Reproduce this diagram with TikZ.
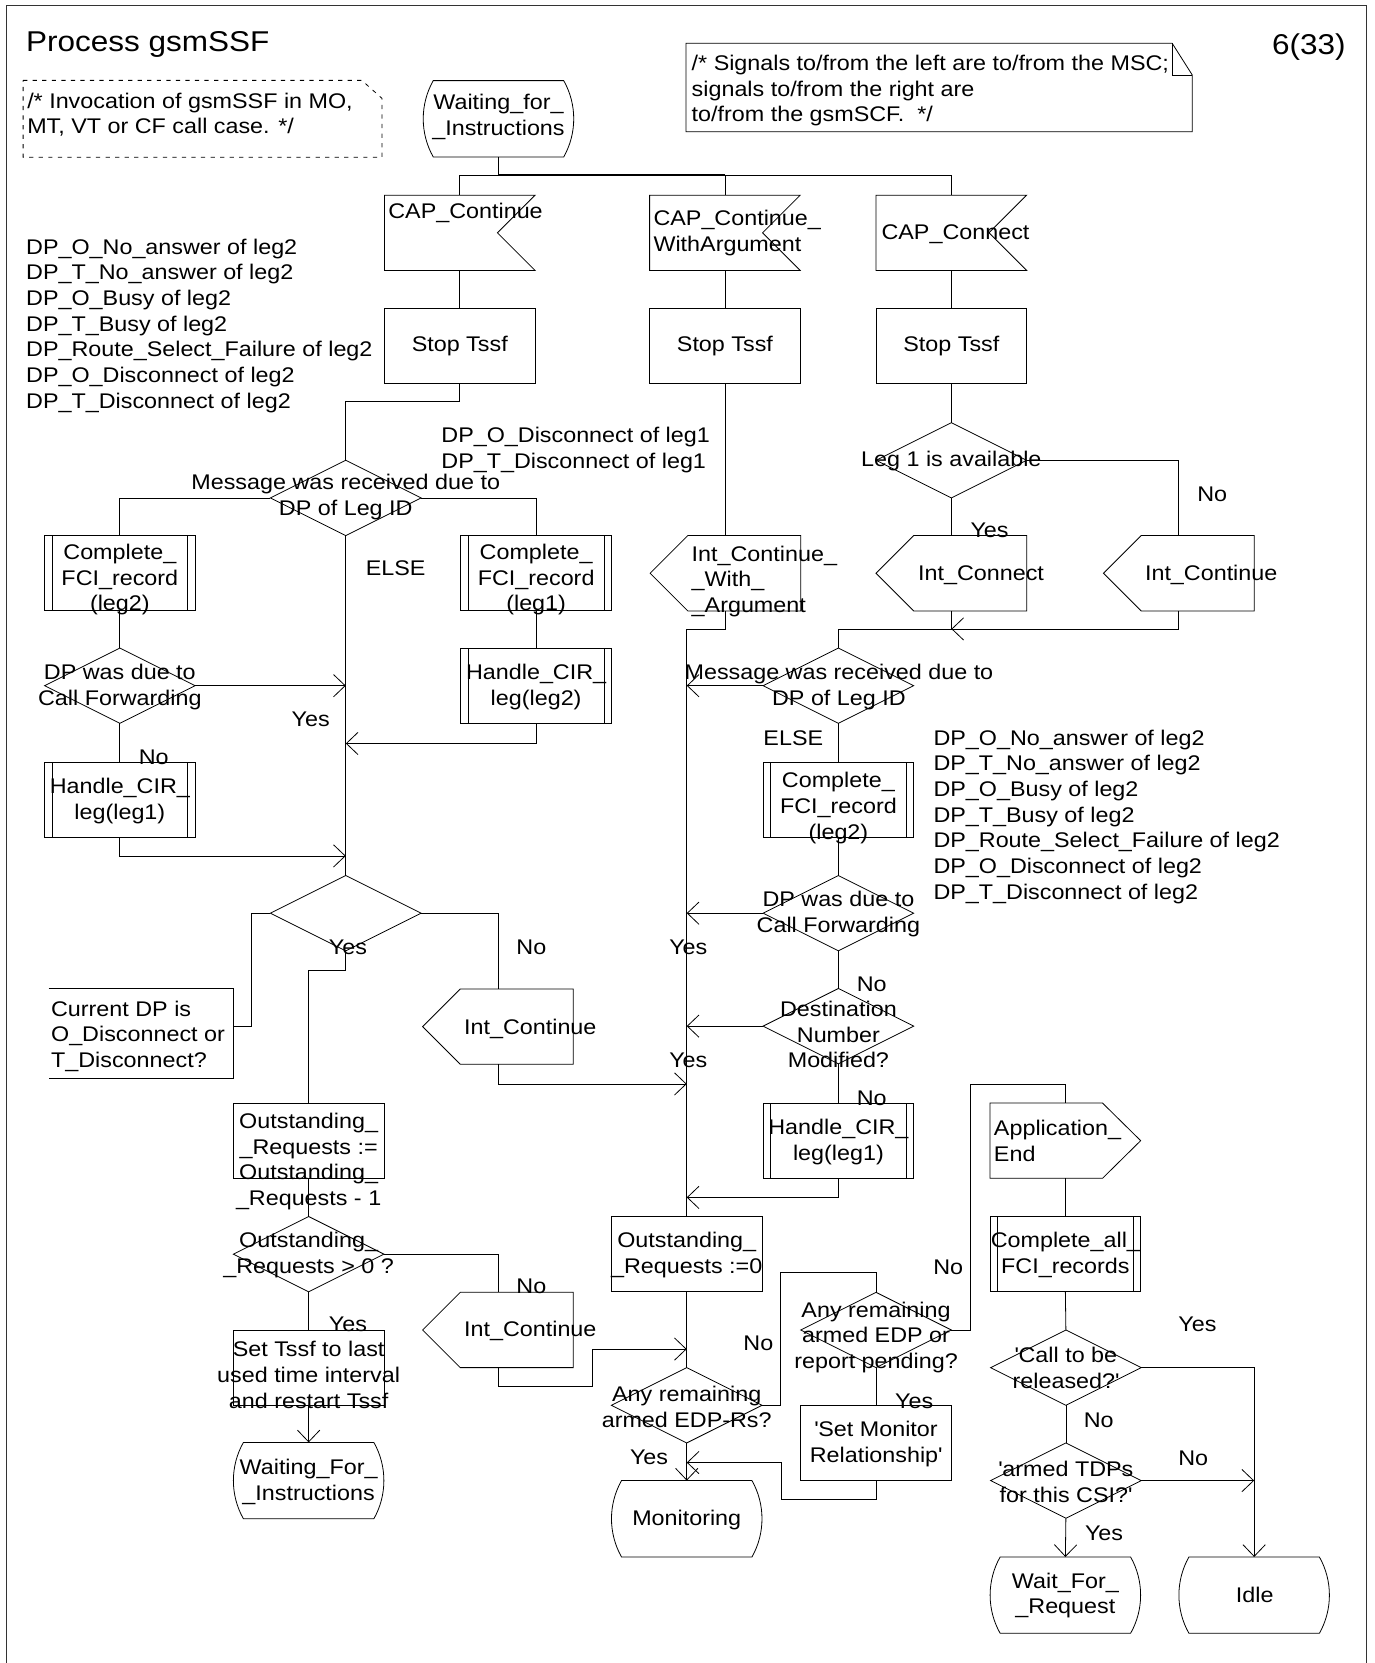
\documentclass[tikz,border=0pt]{standalone}
\usepackage{fontspec}
\setmainfont{Liberation Sans}[FakeStretch=1.1]
\usetikzlibrary{shapes.geometric,arrows.meta,calc}
\newcommand\tsz{\fontsize{20pt}{24.2pt}\selectfont}
\newcommand\ttsz{\fontsize{27pt}{30pt}\selectfont}
\tikzset{
 ln/.style={line width=0.75pt},
 arr/.style={ln,-{Straight Barb[length=11pt,width=21pt]}},
 blk/.style={inner sep=0pt, outer sep=0pt, minimum width=142pt, minimum height=71pt},
 box/.style={blk, draw, ln},
 dec/.style={diamond, draw, ln, inner sep=0pt, outer sep=0pt, minimum width=142pt, minimum height=71pt},
 tx/.style={inner sep=0pt, align=center},
 tl/.style={inner sep=0pt, align=left, anchor=west},
 frame/.style={line width=1pt, draw=black!80},
}
% input signal (notch on the right)
\newcommand\sdlinput[2]{\node[blk] (#1) at #2 {};
 \draw[ln] (#1.north west) -- (#1.north east) -- ($(#1.east)+(-35.5,0)$) -- (#1.south east) -- (#1.south west) -- cycle;}
% output signal pointing left
\newcommand\sdloutl[2]{\node[blk] (#1) at #2 {};
 \draw[ln] (#1.west) -- ($(#1.north west)+(35.5,0)$) -- (#1.north east) -- (#1.south east) -- ($(#1.south west)+(35.5,0)$) -- cycle;}
% output signal pointing right
\newcommand\sdloutr[2]{\node[blk] (#1) at #2 {};
 \draw[ln] (#1.north west) -- ($(#1.north east)+(-36,0)$) -- (#1.east) -- ($(#1.south east)+(-36,0)$) -- (#1.south west) -- cycle;}
% procedure call box
\newcommand\sdlproc[2]{\node[box] (#1) at #2 {};
 \draw[ln] ($(#1.north west)+(7,0)$) -- ($(#1.south west)+(7,0)$);
 \draw[ln] ($(#1.north east)+(-7,0)$) -- ($(#1.south east)+(-7,0)$);}
% state symbol
\newcommand\sdlstate[2]{\node[blk, minimum height=72pt] (#1) at #2 {};
 \draw[ln] ($(#1.north west)+(9.5,0)$) -- ($(#1.north east)+(-9.5,0)$)
   .. controls ($(#1.north east)+(3.1,22.3)$) and ($(#1.south east)+(3.1,-22.3)$) .. ($(#1.south east)+(-9.5,0)$)
   -- ($(#1.south west)+(9.5,0)$)
   .. controls ($(#1.south west)+(-3.1,-22.3)$) and ($(#1.north west)+(-3.1,22.3)$) .. cycle;}
\begin{document}
\begin{tikzpicture}[x=1pt, y=-1pt, font=\tsz]
\useasboundingbox (0,0) rectangle (1296,1568);
\draw[frame] (6,1568) -- (6,5) -- (1288,5) -- (1288,1568);

\node[tl, font=\ttsz] (title) at (24.5,42) {Process gsmSSF};
\node[inner sep=0pt, anchor=east, font=\ttsz] (page) at (1269,44) {6(33)};

% comments
\node[inner sep=0pt, minimum width=338pt, minimum height=72pt] (nt1) at (191,112) {};
\draw[ln, dash pattern=on 4pt off 5pt] (nt1.north west) -- ($(nt1.north east)+(-19,0)$) -- ($(nt1.north east)+(0,17)$) -- (nt1.south east) -- (nt1.south west) -- cycle;
\node[tl] (nt1t) at (25.5,108) {/* Invocation of gsmSSF in MO,\\MT, VT or CF call case. */};

\node[inner sep=0pt, minimum width=477pt, minimum height=83pt] (nt2) at (885.5,82.5) {};
\draw[ln] (nt2.north west) -- ($(nt2.north east)+(-19,0)$) -- ($(nt2.north east)+(0,30)$) -- (nt2.south east) -- (nt2.south west) -- cycle;
\draw[ln] ($(nt2.north east)+(-19,0)$) -- ($(nt2.north east)+(-19,30)$) -- ($(nt2.north east)+(0,30)$);
\node[tl] (nt2t) at (652,85.5) {/* Signals to/from the left are to/from the MSC;\\signals to/from the right are\\to/from the gsmSCF.\ \ */};

% top
\sdlstate{S0}{(470,112)}
\node[tx] (S0t) at (470,110) {Waiting\_for\_\\\_Instructions};
\coordinate (jn) at (470,165);

\sdlinput{IC1}{(433.5,219.5)}
\sdlinput{IC2}{(683.5,219.5)}
\sdlinput{IC3}{(897,219.5)}
\node[tl] (IC1t) at (366,201) {CAP\_Continue};
\node[tl] (IC2t) at (616,219.5) {CAP\_Continue\_\\WithArgument};
\node[tl] (IC3t) at (831,221) {CAP\_Connect};

\draw[ln] (IC1.north) -- (IC1.north |- jn) -- (IC3.north |- jn) -- (IC3.north);
\draw[ln] (IC2.north) -- (IC2.north |- jn);
\draw[ln, line width=1.5pt] (S0.south) -- (jn) -- (IC2.north |- jn);

\node[box] (ST1) at (433.5,326) {Stop Tssf};
\node[box] (ST2) at (683.5,326) {Stop Tssf};
\node[box] (ST3) at (897,326) {Stop Tssf};
\draw[ln] (IC1.south) -- (ST1.north);
\draw[ln] (IC2.south) -- (ST2.north);
\draw[ln] (IC3.south) -- (ST3.north);

\node[tl] (listL) at (24.5,307) {DP\_O\_No\_answer of leg2\\DP\_T\_No\_answer of leg2\\DP\_O\_Busy of leg2\\DP\_T\_Busy of leg2\\DP\_Route\_Select\_Failure of leg2\\DP\_O\_Disconnect of leg2\\DP\_T\_Disconnect of leg2};
\node[tl] (list1) at (416,424) {DP\_O\_Disconnect of leg1\\DP\_T\_Disconnect of leg1};

% left branch
\node[dec] (D1) at (326,469.5) {};
\node[tx] (D1t) at (326,468.5) {Message was received due to\\DP of Leg ID};
\draw[ln] (ST1.south) -- ++(0,17) -| (D1.north);
\node[tx] (else1) at (373,536) {ELSE};

\sdlproc{PC1}{(113,540)}
\sdlproc{PC2}{(505.5,540)}
\node[tx] (PC1t) at (113,546.5) {Complete\_\\FCI\_record\\(leg2)};
\node[tx] (PC2t) at (505.5,546.5) {Complete\_\\FCI\_record\\(leg1)};
\draw[ln] (D1.west) -| (PC1.north);
\draw[ln] (D1.east) -| (PC2.north);

\node[dec] (D2) at (113,646.5) {};
\node[tx] (D2t) at (113,647.5) {DP was due to\\Call Forwarding};
\draw[ln] (PC1.south) -- (D2.north);
\sdlproc{PH1}{(505.5,646.5)}
\node[tx] (PH1t) at (505.5,647.5) {Handle\_CIR\_\\leg(leg2)};
\draw[ln] (PC2.south) -- (PH1.north);

\node[tx] (yes1) at (293,678) {Yes};
\node[tx] (no1) at (145,714) {No};
\sdlproc{PH2}{(113,754.5)}
\node[tx] (PH2t) at (113,755.5) {Handle\_CIR\_\\leg(leg1)};
\draw[ln] (D2.south) -- (PH2.north);

\node[dec] (D3) at (326,861) {};
\draw[ln] (D1.south) -- (D3.north);
\draw[arr] (D2.east) -- (D2.east -| D1.south);
\coordinate (m1) at (326,701);
\coordinate (m2) at (326,807);
\draw[arr] (PH1.south) |- (m1);
\draw[arr] (PH2.south) |- (m2);

\node[tx] (yes2) at (328,893) {Yes};
\node[tx] (no2) at (501,893) {No};

\node[inner sep=0pt, minimum width=174pt, minimum height=85pt] (cmt) at (133,974.5) {};
\draw[ln] (cmt.north west) -- (cmt.north east) -- (cmt.south east) -- (cmt.south west);
\node[tl] (cmtt) at (48,977) {Current DP is\\O\_Disconnect or\\T\_Disconnect?};
\draw[ln] (D3.west) -- ++(-18,0) |- ($(cmt.east)+(0,-6.5)$);

\sdloutl{IntC1}{(469.5,968)}
\node[tx] (IntC1t) at (500,970) {Int\_Continue};
\draw[ln] (D3.east) -| (IntC1.north);

\node[box] (OR) at (291,1075.5) {};
\node[tx] (ORt) at (291,1095) {Outstanding\_\\\_Requests :=\\Outstanding\_\\\_Requests - 1};
\draw[ln] (D3.south) -- ++(0,18) -| (OR.north);

\node[dec] (D4) at (291,1182.5) {};
\node[tx] (D4t) at (291,1183.5) {Outstanding\_\\\_Requests > 0 ?};
\draw[ln] (OR.south) -- (D4.north);
\node[tx] (no3) at (501,1213) {No};
\node[tx] (yes3) at (328,1249) {Yes};

\sdloutl{IntC2}{(469.5,1254)}
\node[tx] (IntC2t) at (500,1255) {Int\_Continue};
\draw[ln] (D4.east) -| (IntC2.north);

\node[box] (SetT) at (291,1289.5) {};
\node[tx] (SetTt) at (291,1296.5) {Set Tssf to last\\used time interval\\and restart Tssf};
\draw[ln] (D4.south) -- (SetT.north);

\sdlstate{S1}{(291,1396)}
\node[tx] (S1t) at (291,1397.5) {Waiting\_For\_\\\_Instructions};
\draw[arr] (SetT.south) -- (S1.north);

% middle column
\sdloutl{OC}{(684,540.5)}
\node[tl] (OCt) at (652,548) {Int\_Continue\_\\\_With\_\\\_Argument};
\draw[ln] (ST2.south) -- (ST2.south |- OC.north);

\node[box] (OR0) at (647.5,1182.5) {};
\node[tx] (OR0t) at (647.5,1183) {Outstanding\_\\\_Requests :=0};
\draw[ln] (ST2.south |- OC.south) -- ++(0,17) -| (OR0.north);

% right column
\node[dec] (D5) at (897,434) {};
\node[tx] (D5t) at (897,435) {Leg 1 is available};
\draw[ln] (ST3.south) -- (D5.north);
\node[tx] (no4) at (1143,466) {No};
\node[tx] (yes4) at (933,500) {Yes};

\sdloutl{ICon}{(897,540.5)}
\node[tx] (ICont) at (925,542) {Int\_Connect};
\sdloutl{ICR}{(1111.5,540.5)}
\node[tx] (ICRt) at (1142,542) {Int\_Continue};
\draw[ln] (D5.south) -- (ICon.north);
\draw[ln] (D5.east) -| (ICR.north);

\node[dec] (D6) at (790.5,646.5) {};
\node[tx] (D6t) at (791,648) {Message was received due to\\DP of Leg ID};
\coordinate (j2) at (897,593);
\draw[arr] (ICR.south) |- (j2);
\draw[ln] (ICon.south) -- (j2) -| (D6.north);
\draw[arr] (D6.west) -- (D6.west -| OR0.north);
\node[tx] (else2) at (748,696) {ELSE};

\sdlproc{PC3}{(790.5,754)}
\node[tx] (PC3t) at (790.5,762) {Complete\_\\FCI\_record\\(leg2)};
\draw[ln] (D6.south) -- (PC3.north);

\node[tl] (listR) at (880,770) {DP\_O\_No\_answer of leg2\\DP\_T\_No\_answer of leg2\\DP\_O\_Busy of leg2\\DP\_T\_Busy of leg2\\DP\_Route\_Select\_Failure of leg2\\DP\_O\_Disconnect of leg2\\DP\_T\_Disconnect of leg2};

\node[dec] (D7) at (790.5,861) {};
\node[tx] (D7t) at (790.5,861.5) {DP was due to\\Call Forwarding};
\draw[ln] (PC3.south) -- (D7.north);
\draw[arr] (D7.west) -- (D7.west -| OR0.north);
\node[tx] (yes5) at (649,893) {Yes};
\node[tx] (no5) at (822,928) {No};

\node[dec] (D8) at (790.5,967.5) {};
\node[tx] (D8t) at (790.5,975.5) {Destination\\Number\\Modified?};
\draw[ln] (D7.south) -- (D8.north);
\draw[arr] (D8.west) -- (D8.west -| OR0.north);
\node[tx] (yes6) at (649,1000) {Yes};
\node[tx] (no6) at (822,1036) {No};

\coordinate (m3) at (647.5,1022);
\draw[arr] (IntC1.south) |- (m3);

\sdlproc{PH3}{(790.5,1075.5)}
\node[tx] (PH3t) at (790.5,1076.5) {Handle\_CIR\_\\leg(leg1)};
\draw[ln] (D8.south) -- (PH3.north);
\coordinate (m4) at (647.5,1129);
\draw[arr] (PH3.south) |- (m4);

\node[dec] (D9) at (647.5,1325) {};
\node[tx] (D9t) at (647.5,1326.5) {Any remaining\\armed EDP-Rs?};
\draw[ln] (OR0.south) -- (D9.north);
\coordinate (m5) at (647.5,1272);
\draw[arr] (IntC2.south) -- ++(0,17.5) -- ++(89.5,0) |- (m5);
\node[tx] (yes7) at (612,1374) {Yes};
\node[tx] (no7) at (715,1267) {No};

\sdlstate{S2}{(647.5,1432)}
\node[tx] (S2t) at (647.5,1433) {Monitoring};
\draw[arr] (D9.south) -- (S2.north);

\node[dec] (D10) at (826,1254) {};
\node[tx] (D10t) at (826,1261) {Any remaining\\armed EDP or\\report pending?};
\draw[ln] (D9.east) -- ++(17.5,0) -- ++(0,-125) -| (D10.north);
\node[tx] (no8) at (894,1195) {No};
\node[tx] (yes8) at (862,1321) {Yes};

\node[box] (SM) at (826,1360.5) {};
\node[tx] (SMt) at (826,1361.5) {\textquotesingle Set Monitor\\Relationship\textquotesingle};
\draw[ln] (D10.south) -- (SM.north);
\coordinate (m6) at (647.5,1379);
\draw[arr] (SM.south) -- ++(0,18) -- ++(-89,0) |- (m6);

\sdloutr{AE}{(1004.5,1075.5)}
\node[tl] (AEt) at (937,1076) {Application\_\\End};
\draw[ln] (D10.east) -- ++(18,0) -- ++(0,-232) -| (AE.north);

\sdlproc{PCA}{(1004.5,1182.5)}
\node[tx] (PCAt) at (1004.5,1183) {Complete\_all\_\\FCI\_records};
\draw[ln] (AE.south) -- (PCA.north);

\node[dec] (D11) at (1005,1289.5) {};
\node[tx] (D11t) at (1005,1290) {\textquotesingle Call to be\\released?\textquotesingle};
\draw[ln] (PCA.south) -- (D11.north);
\node[tx] (yes9) at (1129,1249) {Yes};
\node[tx] (no9) at (1036,1339) {No};

\node[dec] (D12) at (1005,1396) {};
\node[tx] (D12t) at (1005,1397) {\textquotesingle armed TDPs\\for this CSI?\textquotesingle};
\draw[ln] (D11.south) -- (D12.north);
\node[tx] (no10) at (1125,1375) {No};
\node[tx] (yes10) at (1041,1446) {Yes};

\sdlstate{S3}{(1004.5,1504)}
\node[tx] (S3t) at (1004.5,1504.5) {Wait\_For\_\\\_Request};
\sdlstate{S4}{(1182.5,1504)}
\node[tx] (S4t) at (1183,1504) {Idle};
\draw[arr] (D11.east) -| (S4.north);
\draw[arr] (D12.east) -- (D12.east -| S4.north);
\draw[arr] (D12.south) -- (S3.north);
\end{tikzpicture}
\end{document}
